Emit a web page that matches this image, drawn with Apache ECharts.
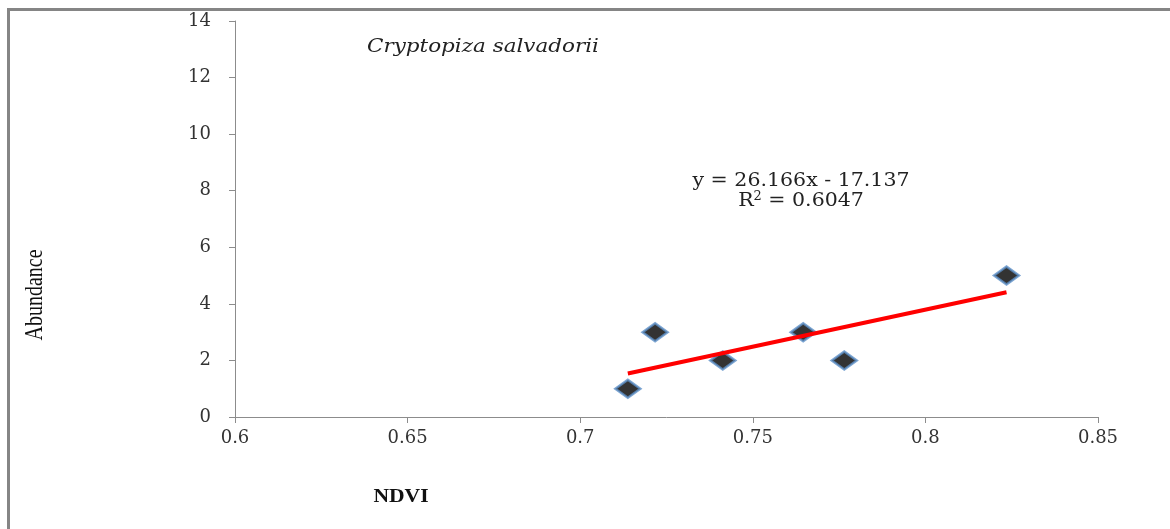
<!DOCTYPE html>
<html><head><meta charset="utf-8">
<script src="https://cdn.jsdelivr.net/npm/echarts@6/dist/echarts.min.js"></script>
<style>html,body{margin:0;padding:0;background:#fff}#c{width:1170px;height:529px}</style>
</head><body><div id="c"></div>
<script>
const ndvi = [0.7138, 0.7217, 0.7413, 0.7646, 0.7765, 0.8235];
const abundance = [1, 3, 2, 3, 2, 5];
const slope = 26.166, intercept = -17.137, r2 = 0.6047;
const xTicks = [0.6, 0.65, 0.7, 0.75, 0.8, 0.85];
const yTicks = [0, 2, 4, 6, 8, 10, 12, 14];
const speciesName = 'Cryptopiza salvadorii';

const pts = ndvi.map((x, i) => [x, abundance[i]]);
const xmin = Math.min(...ndvi), xmax = Math.max(...ndvi);
const trend = [[xmin, slope * xmin + intercept], [xmax, slope * xmax + intercept]];

const tickFont = 'DejaVu Serif';
const chart = echarts.init(document.getElementById('c'));
chart.setOption({
  animation: false,
  backgroundColor: '#fff',
  grid: {left: 235, right: 72, top: 21, bottom: 112},
  xAxis: {
    type: 'value', min: 0.6, max: 0.85, interval: 0.05,
    axisLine: {show: true, onZero: false, lineStyle: {color: '#8c8c8c', width: 1}},
    axisTick: {show: true, length: 6, lineStyle: {color: '#8c8c8c'}},
    splitLine: {show: false},
    axisLabel: {color: '#333', fontFamily: tickFont, fontSize: 18, margin: 12,
      formatter: v => { const s = xTicks.find(t => Math.abs(t - v) < 1e-9); return s === undefined ? '' : String(s); }}
  },
  yAxis: {
    type: 'value', min: 0, max: 14, interval: 2,
    axisLine: {show: true, lineStyle: {color: '#8c8c8c', width: 1}},
    axisTick: {show: true, length: 6, lineStyle: {color: '#8c8c8c'}},
    splitLine: {show: false},
    axisLabel: {color: '#333', fontFamily: tickFont, fontSize: 18, margin: 24,
      formatter: v => yTicks.includes(v) ? String(v) : ''}
  },
  series: [
    {
      type: 'line', data: trend, symbol: 'none', z: 3,
      lineStyle: {color: '#ff0000', width: 4}
    },
    {
      type: 'scatter', data: pts, symbol: 'diamond', symbolSize: [25, 18], z: 2,
      itemStyle: {color: '#000', borderColor: '#5b8fc7', borderWidth: 2.5}
    }
  ],
  graphic: [
    {type: 'rect', shape: {x: 7, y: 8, width: 1170, height: 3}, style: {fill: '#858585'}, silent: true},
    {type: 'rect', shape: {x: 7, y: 8, width: 3, height: 530}, style: {fill: '#858585'}, silent: true},
    {type: 'text', x: 367, y: 47, scaleX: 1.13, style: {text: speciesName, font: 'italic 19px "DejaVu Serif"', fill: '#222', textAlign: 'left', textVerticalAlign: 'middle'}},
    {type: 'text', x: 801, y: 181, scaleX: 1.08, style: {text: 'y = ' + slope + 'x - ' + Math.abs(intercept), font: '19px "DejaVu Serif"', fill: '#222', textAlign: 'center', textVerticalAlign: 'middle'}},
    {type: 'text', x: 801, y: 201, scaleX: 1.08, style: {rich: {a: {font: '19px "DejaVu Serif"', fill: '#222'}, s: {font: '12px "DejaVu Serif"', fill: '#222', verticalAlign: 'top', padding: [0,0,8,0]}}, text: '{a|R}{s|2}{a| = ' + r2 + '}', textAlign: 'center', textVerticalAlign: 'middle'}},
    {type: 'text', x: 35, y: 295, rotation: Math.PI / 2, scaleY: 1.3, style: {text: 'Abundance', font: '20px "Liberation Serif"', fill: '#111', textAlign: 'center', textVerticalAlign: 'middle'}},
    {type: 'text', x: 401, y: 497, scaleX: 1.2, style: {text: 'NDVI', font: 'bold 18px "Liberation Serif"', fill: '#111', textAlign: 'center', textVerticalAlign: 'middle'}}
  ]
});
</script></body></html>
